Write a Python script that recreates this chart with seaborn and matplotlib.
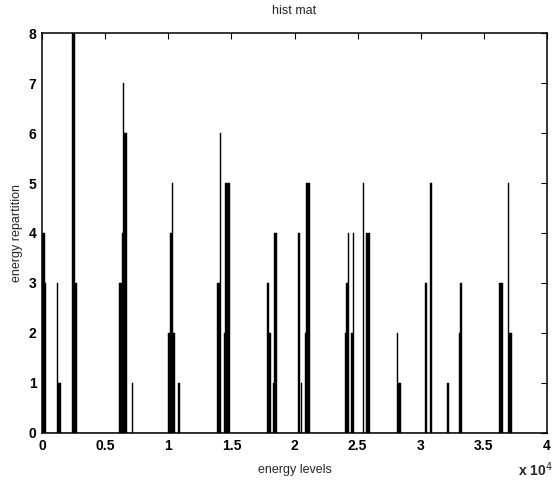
import numpy as np
import pandas as pd
import matplotlib
matplotlib.use("Agg")
import matplotlib.pyplot as plt
import seaborn as sns

energy_levels = [
    50, 150, 250,
    1250, 1350, 1450,
    2450, 2550, 2650, 2750,
    6150, 6250, 6350, 6450, 6550, 6650,
    7150,
    10050, 10150, 10250, 10350, 10450,
    10850,
    13950, 14050, 14150, 14450, 14550, 14650, 14750, 14850,
    17850, 17950, 18050, 18350, 18450, 18550,
    20350, 20550, 20850, 20950, 21050, 21150,
    24050, 24150, 24250, 24550, 24650, 25400, 25750, 25850, 25950,
    28150, 28250, 28350,
    30350, 30450, 30750, 30850,
    32150,
    33050, 33150, 33250,
    36250, 36350, 36450,
    36950, 37050, 37150,
]
counts = [
    4, 4, 3,
    3, 1, 1,
    8, 8, 3, 3,
    3, 3, 4, 7, 6, 6,
    1,
    2, 4, 4, 5, 2,
    1,
    3, 3, 6, 2, 5, 5, 5, 5,
    3, 3, 2, 1, 4, 4,
    4, 1, 2, 5, 5, 5,
    2, 3, 4, 2, 4, 5, 4, 4, 4,
    2, 1, 1,
    3, 3, 5, 5,
    1,
    2, 3, 3,
    3, 3, 3,
    5, 2, 2,
]
x_ticks = [0, 5000, 10000, 15000, 20000, 25000, 30000, 35000, 40000]
x_tick_labels = ["0", "0.5", "1", "1.5", "2", "2.5", "3", "3.5", "4"]
y_ticks = [0, 1, 2, 3, 4, 5, 6, 7, 8]

df = pd.DataFrame({"level": energy_levels, "count": counts})

sns.set_theme(style="white")
plt.rcParams['font.family'] = ['Liberation Sans', 'DejaVu Sans']

fig = plt.figure(figsize=(5.55, 4.82), dpi=100)
ax = fig.add_axes([0.0757, 0.1017, 0.9099, 0.8298])

sns.histplot(data=df, x="level", weights="count", bins=400, binrange=(0, 40000),
             color="black", edgecolor="black", linewidth=0.3, alpha=1.0, ax=ax)

ax.set_xlim(0, 40000)
ax.set_ylim(0, 8)
ax.set_xticks(x_ticks)
ax.set_xticklabels(x_tick_labels)
ax.set_yticks(y_ticks)
ax.tick_params(direction="in", top=True, right=True, length=4, width=0.8,
               labelsize=10, colors="black", pad=4)
for lab in ax.get_xticklabels() + ax.get_yticklabels():
    lab.set_fontweight("bold")
for s in ax.spines.values():
    s.set_color("black")
    s.set_linewidth(1.1)

ax.set_xlabel("energy levels", fontsize=9, labelpad=8)
ax.set_ylabel("energy repartition", fontsize=9, labelpad=4)
ax.set_title("hist mat", fontsize=9, pad=14)
ax.text(1.012, -0.068, r"x 10$^4$", transform=ax.transAxes, ha="right", va="top",
        fontsize=10, fontweight="bold")

fig.savefig("out.png", dpi=100)
